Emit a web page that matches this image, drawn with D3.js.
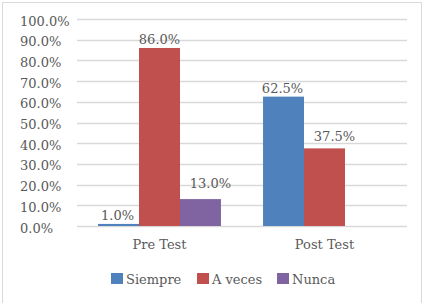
<!DOCTYPE html>
<html>
<head>
<meta charset="utf-8">
<script src="https://cdn.jsdelivr.net/npm/d3@7"></script>
<style>
  body { margin: 0; background: #fff; }
  svg { display: block; }
</style>
</head>
<body>
<script>
// data
const categories = ["Pre Test", "Post Test"]
const seriesNames = ["Siempre", "A veces", "Nunca"]
const siempre = [1.0, 62.5]
const aVeces = [86.0, 37.5]
const nunca = [13.0, null]
const yTicks = [0, 10, 20, 30, 40, 50, 60, 70, 80, 90, 100]
const colors = ["#4F81BD", "#C0504D", "#8064A2"]

// label nudges (excel had a couple dragged aside)
const nudge = [[[-1, 0], [-1, 0]], [[0, 0], [10, -3]], [[10, -7], [0, 0]]]

const W = 425, H = 303
const margin = { left: 77, right: 18, top: 19, bottom: 77 }
const FONT = "'DejaVu Serif', serif"

const svg = d3.select("body").append("svg")
  .attr("width", W).attr("height", H)
  .attr("font-family", FONT)
  .attr("font-size", "13px")
  .attr("fill", "#595959")

// chart border
svg.append("rect")
  .attr("x", 2.5).attr("y", 2.5)
  .attr("width", 419).attr("height", H + 5)
  .attr("fill", "none").attr("stroke", "#D9D9D9")

const series = [siempre, aVeces, nunca]

const x0 = d3.scaleBand()
  .domain(categories)
  .range([margin.left, W - margin.right])
  .paddingInner(0.255).paddingOuter(0.1275)

const x1 = d3.scaleBand()
  .domain(seriesNames)
  .range([0, x0.bandwidth()])

const y = d3.scaleLinear()
  .domain([0, 100])
  .range([H - margin.bottom, margin.top])

// gridlines
svg.append("g")
  .selectAll("line")
  .data(yTicks)
  .join("line")
  .attr("x1", margin.left).attr("x2", W - margin.right)
  .attr("y1", d => Math.round(y(d)) + 0.5).attr("y2", d => Math.round(y(d)) + 0.5)
  .attr("stroke", "#D9D9D9").attr("stroke-width", 1.3)

// y tick labels (left aligned like the original)
svg.append("g")
  .selectAll("text")
  .data(yTicks)
  .join("text")
  .attr("x", 20)
  .attr("y", d => y(d) + 6.5)
  .text(d => d.toFixed(1) + "%")

// bars
const groups = svg.append("g")
  .selectAll("g")
  .data(series)
  .join("g")
  .attr("fill", (d, i) => colors[i])

groups.each(function (vals, si) {
  const g = d3.select(this)
  vals.forEach((v, ci) => {
    if (v == null) return
    const bx = x0(categories[ci]) + x1(seriesNames[si])
    g.append("rect")
      .attr("x", bx)
      .attr("y", y(v))
      .attr("width", x1.bandwidth())
      .attr("height", y(0) - y(v))
    const [dx, dy] = nudge[si][ci]
    svg.append("text")
      .attr("x", bx + x1.bandwidth() / 2 + dx)
      .attr("y", y(v) - 4 + dy)
      .attr("text-anchor", "middle")
      .text(v.toFixed(1) + "%")
  })
})

// category labels
svg.append("g")
  .selectAll("text")
  .data(categories)
  .join("text")
  .attr("x", d => x0(d) + x0.bandwidth() / 2)
  .attr("y", 249)
  .attr("text-anchor", "middle")
  .text(d => d)

// legend
const legendX = [111, 197, 277]
const legend = svg.append("g")
  .selectAll("g")
  .data(seriesNames)
  .join("g")
  .attr("transform", (d, i) => "translate(" + legendX[i] + ",273)")

legend.append("rect")
  .attr("width", 12).attr("height", 11)
  .attr("fill", (d, i) => colors[i])

legend.append("text")
  .attr("x", 15)
  .attr("y", 10.5)
  .text(d => d)
</script>
</body>
</html>
